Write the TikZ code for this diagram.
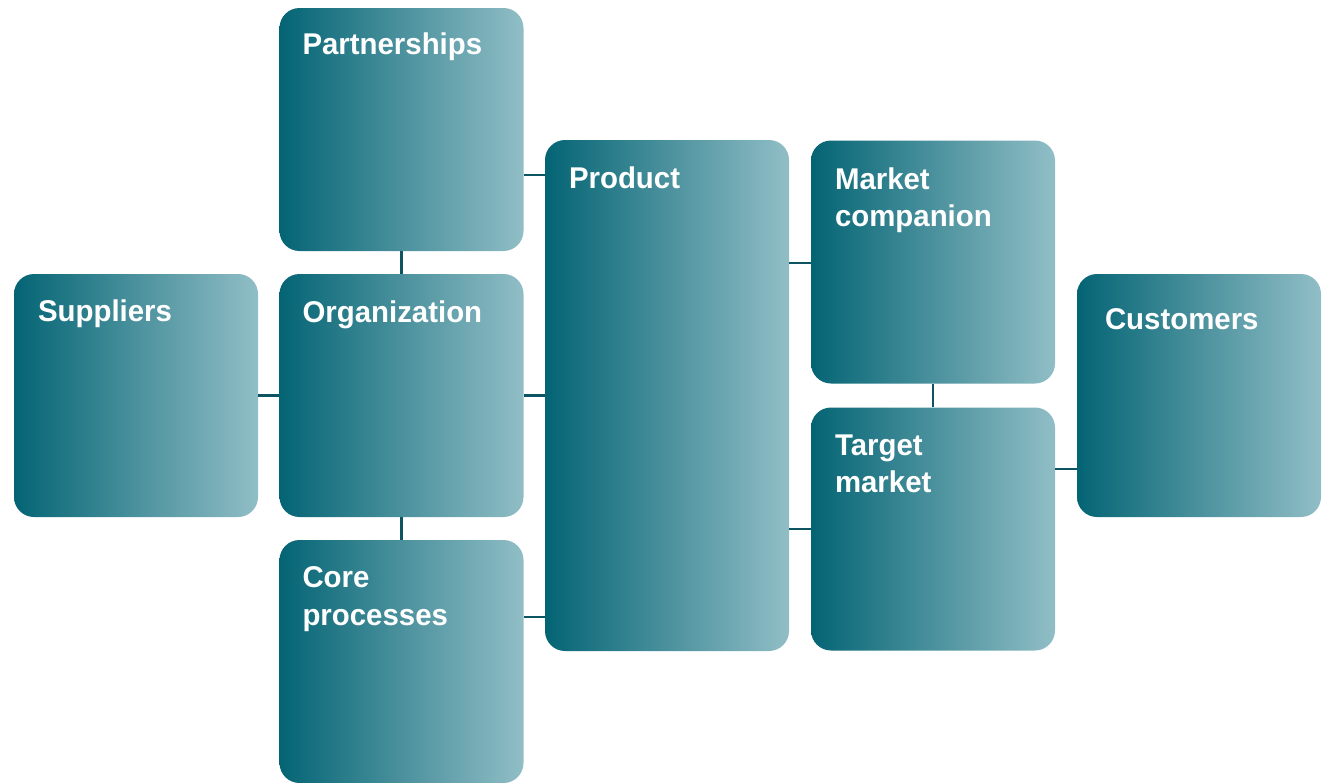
\documentclass[tikz,border=0pt]{standalone}
\usepackage{fontspec}
\setmainfont{Liberation Sans}
\newfontfamily\boxfont{Liberation Sans}[FakeStretch=0.98]
\definecolor{tealdark}{RGB}{4,100,116}
\definecolor{teallight}{RGB}{145,190,198}
\definecolor{linkcol}{RGB}{12,84,98}
\begin{document}
\begin{tikzpicture}[x=0.75pt,y=-0.75pt,
  box/.style={rectangle, rounded corners=15pt, left color=tealdark, right color=teallight,
    draw=none, minimum width=183pt, minimum height=182.25pt, inner sep=0pt},
  tallbox/.style={box, minimum height=383.25pt},
  boxtext/.style={anchor=north west, inner sep=0pt, align=left, text=white,
    font=\boxfont\bfseries\fontsize{22.5}{28}\selectfont},
  link/.style={draw=linkcol, line width=1.6pt}]
\useasboundingbox (0,0) rectangle (1326,782);

% boxes
\node[box] (part) at (401.5,129.5) {};
\node[box] (supp) at (136,395.5) {};
\node[box] (org)  at (401.5,395.5) {};
\node[box] (core) at (401.5,661.5) {};
\node[tallbox] (prod) at (667,395.5) {};
\node[box] (mkt)  at (933,262) {};
\node[box] (tgt)  at (933,529) {};
\node[box] (cust) at (1199,395.5) {};

% labels
\node[boxtext] (partL) at ([shift={(23,25)}]part.north west) {Partnerships};
\node[boxtext] (suppL) at ([shift={(24,26)}]supp.north west) {Suppliers};
\node[boxtext] (orgL)  at ([shift={(23,27)}]org.north west) {Organization};
\node[boxtext] (coreL) at ([shift={(23,27)}]core.north west) {Core\\processes};
\node[boxtext] (prodL) at ([shift={(24,27)}]prod.north west) {Product};
\node[boxtext] (mktL)  at ([shift={(24,27)}]mkt.north west) {Market\\companion};
\node[boxtext] (tgtL)  at ([shift={(24,27)}]tgt.north west) {Target\\market};
\node[boxtext] (custL) at ([shift={(28,35)}]cust.north west) {Customers};

% connectors
\draw[link] (part.east |- 0,175) -- (prod.west |- 0,175);
\draw[link] (part.south) -- (org.north);
\draw[link] (supp.east) -- (org.west);
\draw[link] (org.east) -- (prod.west |- org.east);
\draw[link] (org.south) -- (core.north);
\draw[link] (core.east |- 0,617) -- (prod.west |- 0,617);
\draw[link] (prod.east |- 0,263) -- (mkt.west |- 0,263);
\draw[link] (mkt.south) -- (tgt.north);
\draw[link] (prod.east |- 0,529) -- (tgt.west |- 0,529);
\draw[link] (tgt.east |- 0,469) -- (cust.west |- 0,469);
\end{tikzpicture}
\end{document}
